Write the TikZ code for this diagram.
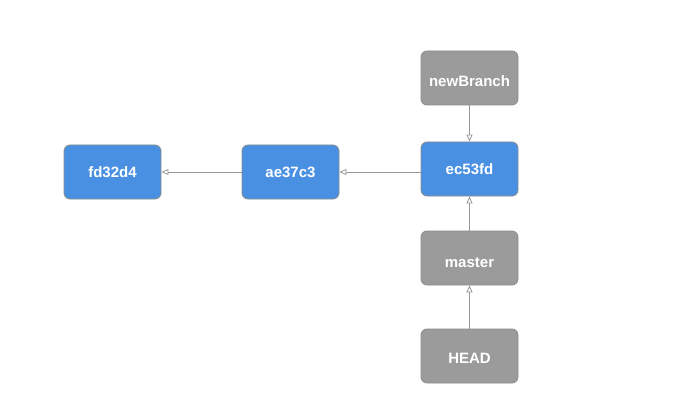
\documentclass[tikz,border=0pt]{standalone}
\usepackage{fontspec}
\setmainfont{Liberation Sans}
\usetikzlibrary{arrows.meta}
\definecolor{cblue}{HTML}{4A90E2}
\definecolor{cgray}{HTML}{9B9B9B}
\definecolor{cedge}{HTML}{8C8C8C}
\definecolor{cline}{HTML}{999999}
\begin{document}
\begin{tikzpicture}[x=1pt,y=-1pt,
  box/.style={draw=cedge, line width=0.8pt, rounded corners=6pt, minimum width=97pt, minimum height=54pt,
    inner sep=0pt, text depth=0pt, text=white, font=\fontsize{15}{17}\selectfont\bfseries},
  commit/.style={box, fill=cblue, text height=11pt},
  ref/.style={box, fill=cgray, text height=18pt},
  conn/.style={draw=cline, line width=0.8pt, -{Triangle[open, length=7pt, width=6pt]}}]
\useasboundingbox (0,0) rectangle (689,412);
\node[commit] (fd) at (112.5,172) {fd32d4};
\node[commit] (ae) at (290.5,172) {ae37c3};
\node[commit] (ec) at (469.5,169) {ec53fd};
\node[ref] (nb) at (469.5,78) {newBranch};
\node[ref] (ma) at (469.5,258) {master};
\node[ref, text height=15pt] (hd) at (469.5,356) {HEAD};
\draw[conn] (ae) -- (fd);
\draw[conn] (ec.west |- ae.east) -- (ae.east);
\draw[conn] (nb) -- (ec);
\draw[conn] (ma) -- (ec);
\draw[conn] (hd) -- (ma);
\end{tikzpicture}
\end{document}
